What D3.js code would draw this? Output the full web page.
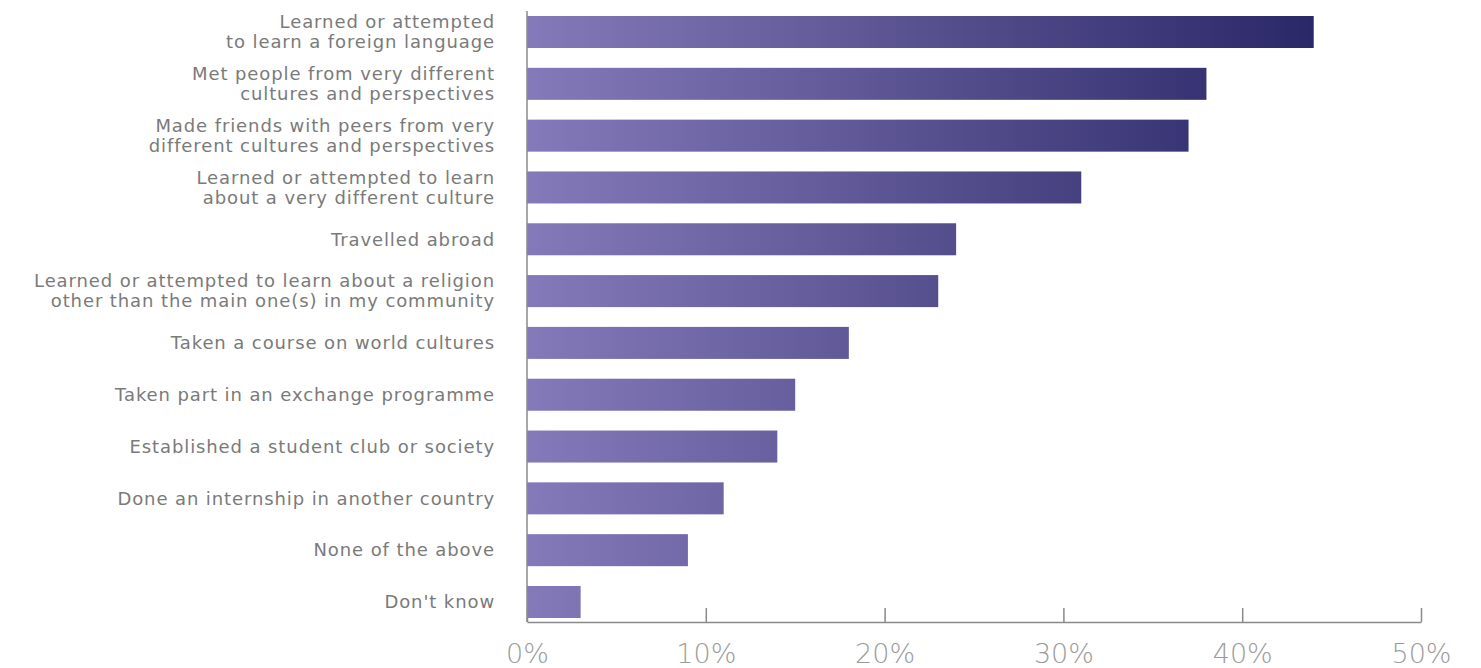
<!DOCTYPE html>
<html>
<head>
<meta charset="utf-8">
<script src="https://cdn.jsdelivr.net/npm/d3@7"></script>
<style>
  body { margin: 0; background: #fff; }
  svg text { font-family: "DejaVu Sans", sans-serif; }
</style>
</head>
<body>
<div id="chart"></div>
<script>
const width = 1481;
const height = 668;
const margins = { top: 16, left: 527, bottom: 46, right: 60 };

// data
const categories = [
    ["Learned or attempted", "to learn a foreign language"],
    ["Met people from very different", "cultures and perspectives"],
    ["Made friends with peers from very", "different cultures and perspectives"],
    ["Learned or attempted to learn", "about a very different culture"],
    ["Travelled abroad"],
    ["Learned or attempted to learn about a religion", "other than the main one(s) in my community"],
    ["Taken a course on world cultures"],
    ["Taken part in an exchange programme"],
    ["Established a student club or society"],
    ["Done an internship in another country"],
    ["None of the above"],
    ["Don't know"]
];
const values = [44, 38, 37, 31, 24, 23, 18, 15, 14, 11, 9, 3];
const tickValues = [0, 10, 20, 30, 40, 50];

const svg = d3.select("#chart")
    .append("svg")
    .attr("width", width)
    .attr("height", height);

const axisY = height - margins.bottom;

const x = d3.scaleLinear()
    .domain([0, 50])
    .range([margins.left, width - margins.right]);

const y = d3.scaleBand()
    .domain(d3.range(categories.length))
    .range([margins.top, axisY - 4])
    .paddingInner(0.382)
    .paddingOuter(0);

// gradient across the value range
const grad = svg.append("defs")
    .append("linearGradient")
    .attr("id", "barGrad")
    .attr("gradientUnits", "userSpaceOnUse")
    .attr("x1", x(0)).attr("x2", x(d3.max(values)))
    .attr("y1", 0).attr("y2", 0);
grad.append("stop").attr("offset", "0%").attr("stop-color", "#857ab9");
grad.append("stop").attr("offset", "100%").attr("stop-color", "#2b2867");

// bars
svg.selectAll("rect.bar")
    .data(values)
    .enter()
    .append("rect")
    .attr("class", "bar")
    .attr("x", x(0))
    .attr("y", (d, i) => y(i))
    .attr("width", d => x(d) - x(0))
    .attr("height", y.bandwidth())
    .attr("fill", "url(#barGrad)");

// category labels
const labels = svg.selectAll("text.cat")
    .data(categories)
    .enter()
    .append("text")
    .attr("class", "cat")
    .attr("text-anchor", "end")
    .attr("fill", "#7a7a7a")
    .style("font-size", "18px")
    .style("letter-spacing", "0.9px");

labels.each(function(lines, i) {
    const cy = y(i) + y.bandwidth() / 2;
    const start = cy - (lines.length - 1) * 10;
    d3.select(this).selectAll("tspan")
        .data(lines)
        .enter()
        .append("tspan")
        .attr("x", 495)
        .attr("y", (d, j) => start + j * 20)
        .attr("dy", "0.35em")
        .text(d => d);
});

// x axis
const xAxis = svg.append("g")
    .attr("transform", `translate(0,${axisY})`)
    .call(d3.axisBottom(x).tickValues(tickValues).tickSizeInner(-14).tickSizeOuter(0).tickPadding(22).tickFormat(d => d + "%"));

xAxis.select(".domain").attr("stroke", "#8a8a8a").attr("stroke-width", 1.5);
xAxis.selectAll(".tick line").attr("stroke", "#8a8a8a").attr("stroke-width", 1.5);
xAxis.selectAll(".tick text")
    .attr("fill", "#9c9c9c")
    .style("font-size", "27px")
    .style("font-weight", "200");

// y axis line
svg.append("line")
    .attr("x1", x(0)).attr("x2", x(0))
    .attr("y1", 11).attr("y2", axisY)
    .attr("stroke", "#8a8a8a")
    .attr("stroke-width", 1.5);
</script>
</body>
</html>
